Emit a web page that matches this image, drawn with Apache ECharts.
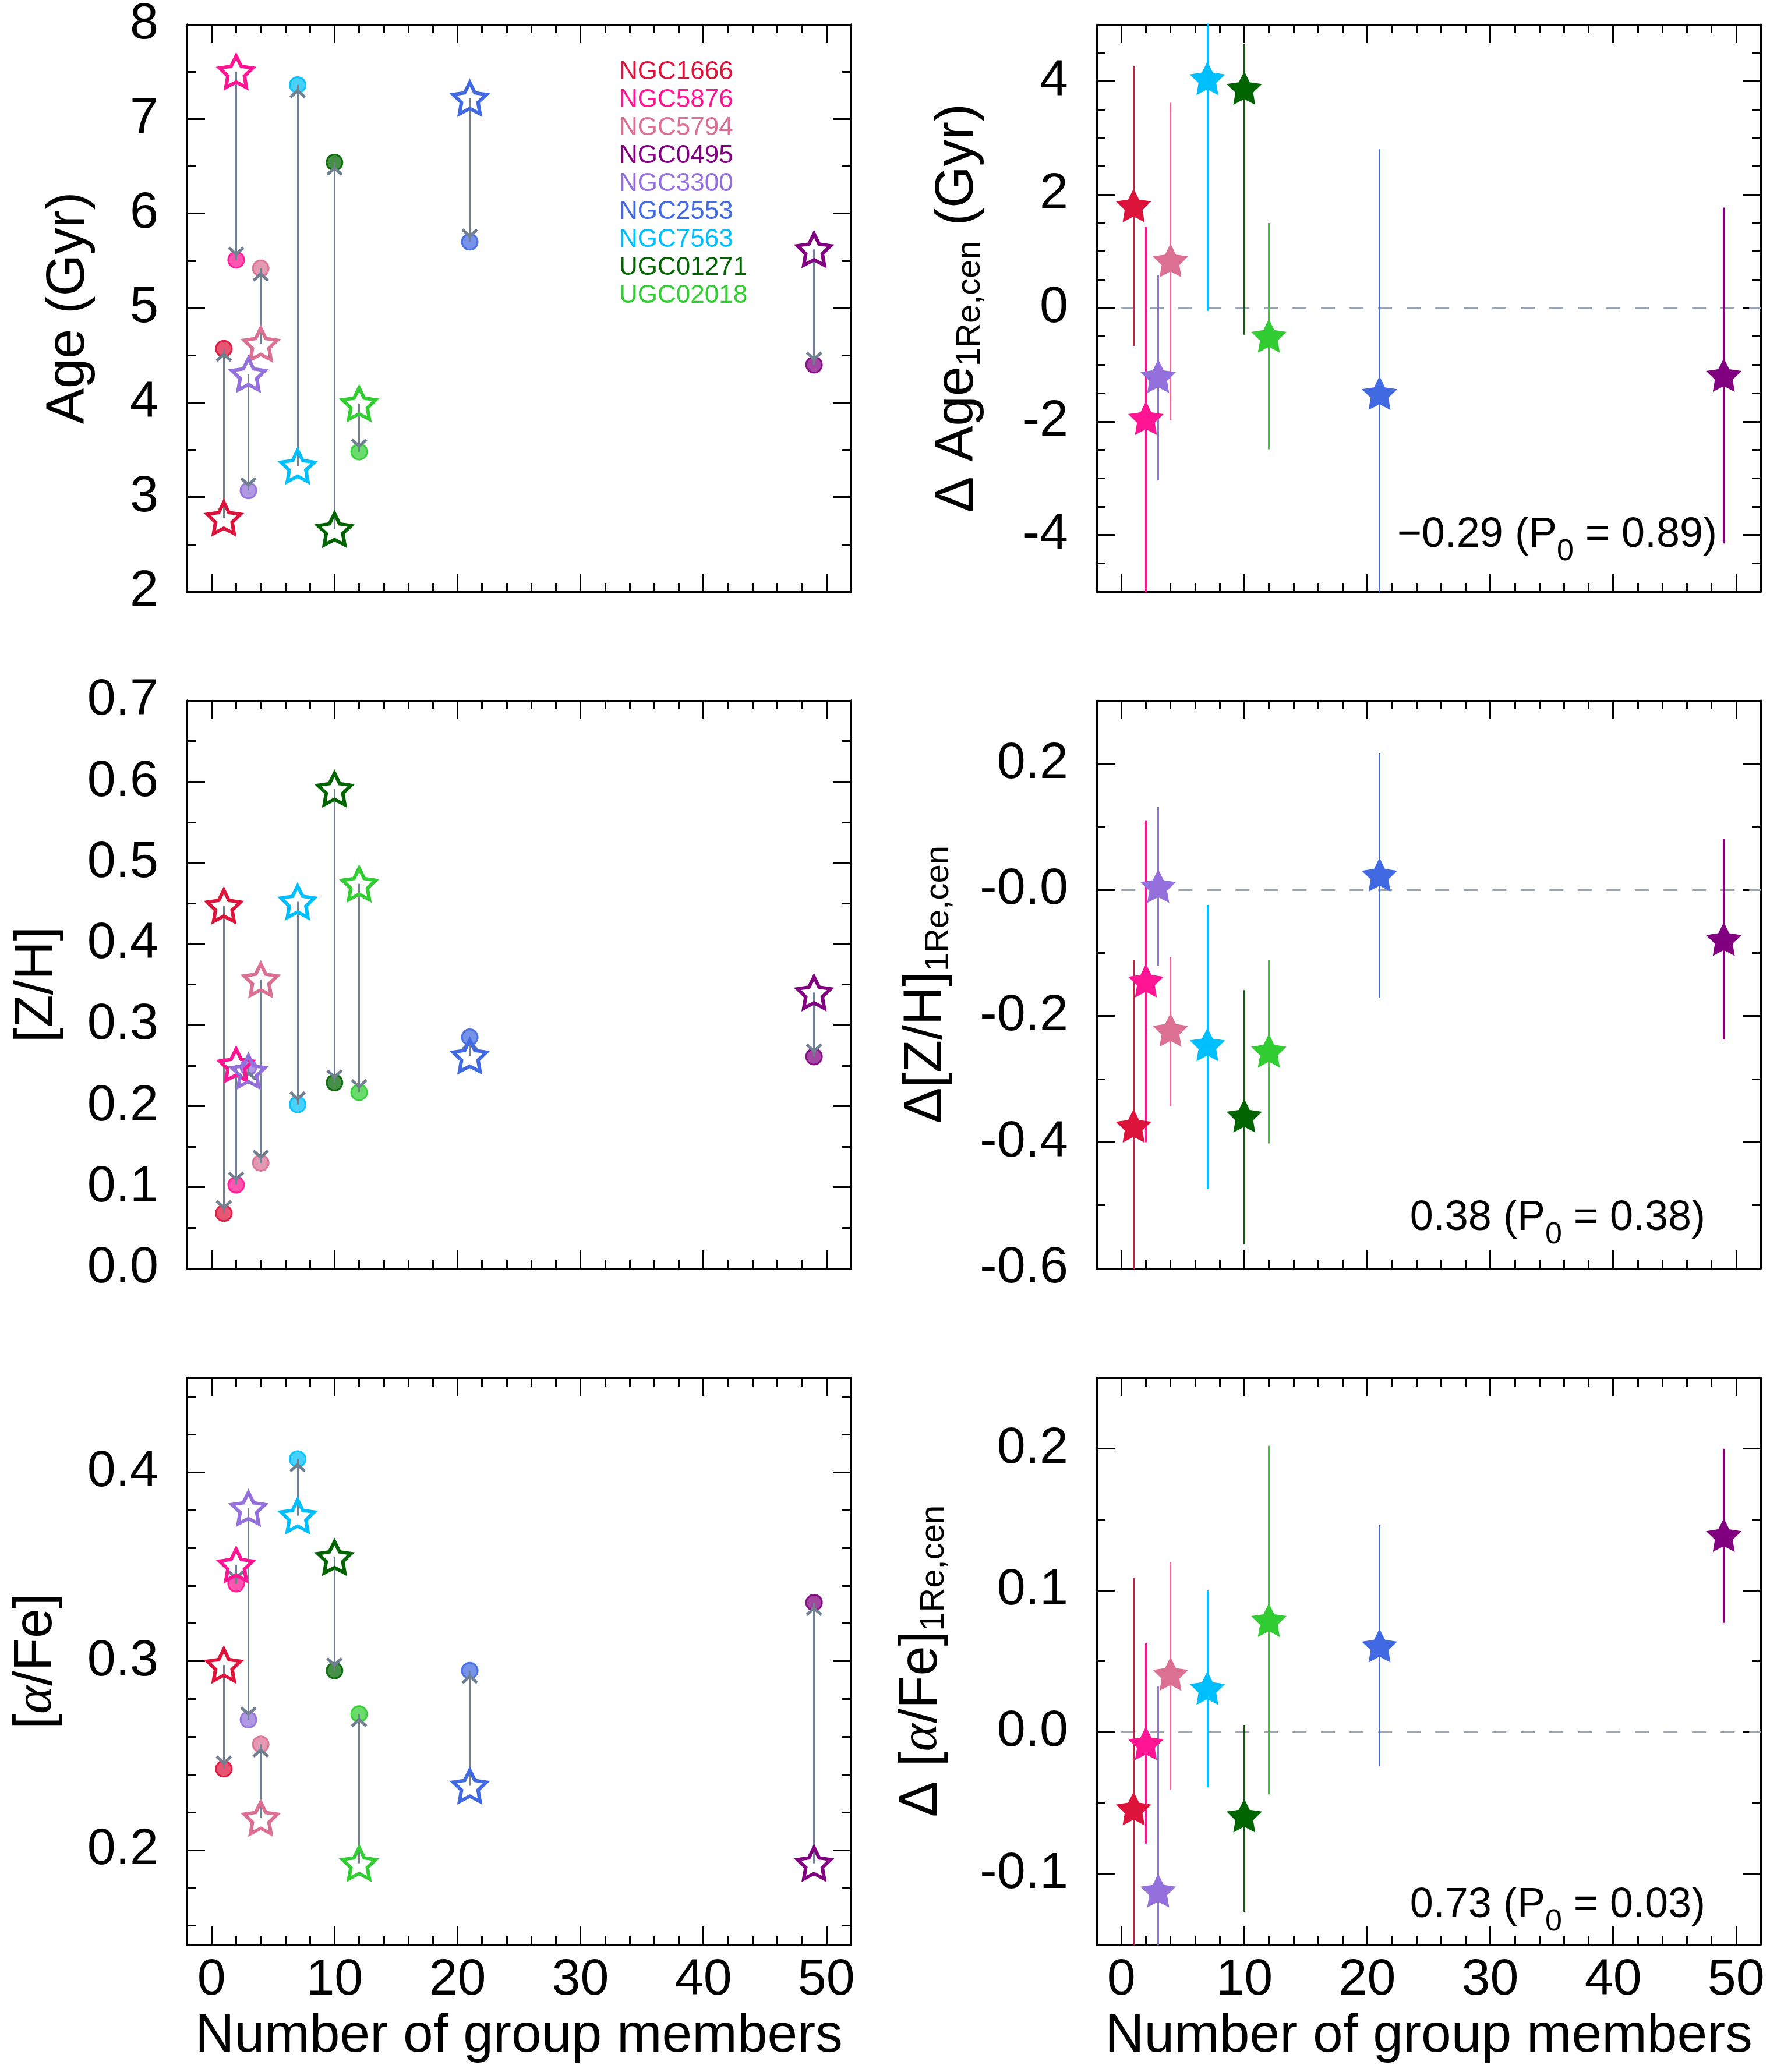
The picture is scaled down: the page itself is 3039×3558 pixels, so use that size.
<!DOCTYPE html>
<html><head><meta charset="utf-8">
<script src="https://cdn.jsdelivr.net/npm/echarts@6/dist/echarts.min.js"></script>
<style>html,body{margin:0;padding:0;background:#fff}#chart{width:3039px;height:3558px}</style>
</head><body><div id="chart"></div>
<script>
// ---------------- DATA ----------------
const galaxies = ['NGC1666','NGC5876','NGC5794','NGC0495','NGC3300','NGC2553','NGC7563','UGC01271','UGC02018'];
const colors   = ['#DC143C','#FF1493','#DB7093','#800080','#9370DB','#4169E1','#00BFFF','#006400','#32CD32'];
const members  = [1, 2, 4, 49, 3, 21, 7, 10, 12];

// Age (Gyr): open star and filled dot
const ageStar = [2.78, 7.50, 4.62, 5.62, 4.30, 7.22, 3.33, 2.66, 3.99];
const ageDot  = [4.57, 5.51, 5.42, 4.40, 3.07, 5.70, 7.36, 6.54, 3.48];
// Delta Age
const dAge    = [1.81, -1.94, 0.84, -1.18, -1.20, -1.50, 4.05, 3.88, -0.49];
const dAgeLo  = [-0.67, -5.31, -1.97, -4.15, -3.04, -5.80, -0.05, -0.47, -2.49];
const dAgeHi  = [4.26, 1.43, 3.62, 1.77, 0.58, 2.80, 8.15, 4.65, 1.50];

// [Z/H]
const zhStar = [0.447, 0.251, 0.356, 0.340, 0.243, 0.262, 0.452, 0.591, 0.474];
const zhDot  = [0.068, 0.103, 0.130, 0.261, 0.248, 0.285, 0.202, 0.229, 0.217];
const dZh    = [-0.374, -0.144, -0.222, -0.078, 0.006, 0.024, -0.245, -0.358, -0.255];
const dZhLo  = [-0.637, -0.400, -0.343, -0.237, -0.121, -0.171, -0.474, -0.562, -0.402];
const dZhHi  = [-0.111, 0.110, -0.107, 0.081, 0.132, 0.217, -0.024, -0.159, -0.111];

// [alpha/Fe]
const afeStar = [0.298, 0.351, 0.217, 0.193, 0.381, 0.234, 0.377, 0.355, 0.193];
const afeDot  = [0.243, 0.341, 0.256, 0.331, 0.269, 0.295, 0.407, 0.295, 0.272];
const dAfe    = [-0.054, -0.008, 0.041, 0.139, -0.112, 0.061, 0.031, -0.059, 0.079];
const dAfeLo  = [-0.217, -0.079, -0.041, 0.077, -0.256, -0.024, -0.039, -0.127, -0.044];
const dAfeHi  = [0.109, 0.063, 0.120, 0.200, 0.032, 0.146, 0.100, 0.005, 0.202];

// correlation annotations
const corrValues = ['\u22120.29', '0.38', '0.73'];
const corrPvals  = ['0.89', '0.38', '0.03'];

// ticks & labels
const xMajorTicks = [0, 10, 20, 30, 40, 50];
const xTickLabels = ['0', '10', '20', '30', '40', '50'];
const ageTicks = [2, 3, 4, 5, 6, 7, 8];
const ageTickLabels = ['2', '3', '4', '5', '6', '7', '8'];
const dAgeTicks = [-4, -2, 0, 2, 4];
const dAgeTickLabels = ['-4', '-2', '0', '2', '4'];
const zhTicks = [0, 0.1, 0.2, 0.3, 0.4, 0.5, 0.6, 0.7];
const zhTickLabels = ['0.0', '0.1', '0.2', '0.3', '0.4', '0.5', '0.6', '0.7'];
const dZhTicks = [-0.6, -0.4, -0.2, 0, 0.2];
const dZhTickLabels = ['-0.6', '-0.4', '-0.2', '-0.0', '0.2'];
const afeTicks = [0.2, 0.3, 0.4];
const afeTickLabels = ['0.2', '0.3', '0.4'];
const dAfeTicks = [-0.1, 0, 0.1, 0.2];
const dAfeTickLabels = ['-0.1', '0.0', '0.1', '0.2'];

const xTitle = 'Number of group members';

// ---------------- HELPERS ----------------
const FONT = '"Liberation Sans", Arial, Helvetica, sans-serif';
function steps(a, b, s) { const o = []; for (let v = a; v <= b + 1e-9; v += s) o.push(+v.toFixed(4)); return o; }
function rgba(hex, a) { const n = parseInt(hex.slice(1), 16); return 'rgba(' + ((n >> 16) & 255) + ',' + ((n >> 8) & 255) + ',' + (n & 255) + ',' + a + ')'; }
function fmt(ticks, labels) { return function (v) { const i = ticks.findIndex(t => Math.abs(t - v) < 1e-6); return i >= 0 ? labels[i] : ''; }; }
function starPath(R, r) {
  let s = '';
  for (let k = 0; k < 10; k++) {
    const ang = -Math.PI / 2 + k * Math.PI / 5, rad = (k % 2 === 0) ? R : r;
    s += (k === 0 ? 'M' : 'L') + (rad * Math.cos(ang)).toFixed(2) + ',' + (rad * Math.sin(ang)).toFixed(2) + ' ';
  }
  return 'path://' + s + 'Z';
}
const STAR = starPath(100, 50);
const CHEVRON = 'path://M-23,-29 M23,17 M0,0 L14,13 L11,17 L0,7 L-11,17 L-14,13 Z';
const xMinorTicks = steps(0, 52, 2);

const rows = [{ top: 42, height: 974 }, { top: 1203, height: 975 }, { top: 2366, height: 973 }];
const cols = [{ left: 321, width: 1140 }, { left: 1883, width: 1140 }];

const richName = {
  m: { fontSize: 92, lineHeight: 100, fontFamily: FONT, color: '#000' },
  s: { fontSize: 58, lineHeight: 56, verticalAlign: 'bottom', fontFamily: FONT, color: '#000' },
  a: { fontSize: 92, lineHeight: 100, fontFamily: '"Liberation Serif", "DejaVu Serif", serif', fontStyle: 'italic', color: '#000' }
};

const panels = [
  { row: 0, col: 0, yMin: 2, yMax: 8, ticks: ageTicks, labels: ageTickLabels, minor: steps(2, 8, 0.5), name: '{m|Age (Gyr)}', nameGap: 152, kind: 'arrow', star: ageStar, dot: ageDot },
  { row: 0, col: 1, yMin: -5, yMax: 5, ticks: dAgeTicks, labels: dAgeTickLabels, minor: steps(-5, 5, 0.5), name: '{m|\u0394 Age}{s|1Re,cen}{m| (Gyr)}', nameGap: 188, kind: 'delta', val: dAge, lo: dAgeLo, hi: dAgeHi },
  { row: 1, col: 0, yMin: 0, yMax: 0.7, ticks: zhTicks, labels: zhTickLabels, minor: steps(0, 0.7, 0.05), name: '{m|[Z/H]}', nameGap: 206, kind: 'arrow', star: zhStar, dot: zhDot },
  { row: 1, col: 1, yMin: -0.6, yMax: 0.3, ticks: dZhTicks, labels: dZhTickLabels, minor: steps(-0.6, 0.3, 0.1), name: '{m|\u0394[Z/H]}{s|1Re,cen}', nameGap: 242, kind: 'delta', val: dZh, lo: dZhLo, hi: dZhHi },
  { row: 2, col: 0, yMin: 0.15, yMax: 0.45, ticks: afeTicks, labels: afeTickLabels, minor: steps(0.16, 0.44, 0.02), name: '{m|[}{a|\u03b1}{m|/Fe]}', nameGap: 208, kind: 'arrow', star: afeStar, dot: afeDot },
  { row: 2, col: 1, yMin: -0.15, yMax: 0.25, ticks: dAfeTicks, labels: dAfeTickLabels, minor: steps(-0.15, 0.25, 0.05), name: '{m|\u0394 [}{a|\u03b1}{m|/Fe]}{s|1Re,cen}', nameGap: 250, kind: 'delta', val: dAfe, lo: dAfeLo, hi: dAfeHi }
];

const grid = [], xAxis = [], yAxis = [], series = [];

function xAx(g, pos, major, showLabel, showName) {
  return {
    gridIndex: g, type: 'value', min: -2, max: 52, position: pos,
    axisLine: { show: true, onZero: false, lineStyle: { color: '#000', width: 3 } },
    axisTick: { show: true, inside: true, length: major ? 31 : 15, customValues: major ? xMajorTicks : xMinorTicks, lineStyle: { color: '#000', width: 3 } },
    axisLabel: { show: showLabel, customValues: xMajorTicks, formatter: fmt(xMajorTicks, xTickLabels), margin: 18, fontSize: 88, color: '#000', fontFamily: FONT },
    splitLine: { show: false },
    name: showName ? xTitle : '', nameLocation: 'middle', nameGap: 112,
    nameTextStyle: { fontSize: 93, color: '#000', fontFamily: FONT }
  };
}
function yAx(g, pos, p, major, showLabel, showName) {
  return {
    gridIndex: g, type: 'value', min: p.yMin, max: p.yMax, position: pos,
    axisLine: { show: true, onZero: false, lineStyle: { color: '#000', width: 3 } },
    axisTick: { show: true, inside: true, length: major ? 31 : 15, customValues: major ? p.ticks : p.minor, lineStyle: { color: '#000', width: 3 } },
    axisLabel: { show: showLabel, customValues: p.ticks, formatter: fmt(p.ticks, p.labels), margin: 49, fontSize: 88, color: '#000', fontFamily: FONT },
    splitLine: { show: false },
    name: showName ? p.name : '', nameLocation: 'middle', nameGap: p.nameGap, nameRotate: 90,
    nameTextStyle: { fontSize: 92, color: '#000', fontFamily: FONT, rich: richName }
  };
}

panels.forEach((p, pi) => {
  const rect = { left: cols[p.col].left, top: rows[p.row].top, width: cols[p.col].width, height: rows[p.row].height, containLabel: false, outerBoundsMode: 'none' };
  const bottomRow = p.row === 2;
  grid.push(Object.assign({}, rect));
  grid.push(Object.assign({}, rect));
  const gMaj = 2 * pi, gMin = 2 * pi + 1;
  xAxis.push(xAx(gMaj, 'bottom', true, bottomRow, bottomRow));
  xAxis.push(xAx(gMaj, 'top', true, false, false));
  xAxis.push(xAx(gMin, 'bottom', false, false, false));
  xAxis.push(xAx(gMin, 'top', false, false, false));
  yAxis.push(yAx(gMaj, 'left', p, true, true, true));
  yAxis.push(yAx(gMaj, 'right', p, true, false, false));
  yAxis.push(yAx(gMin, 'left', p, false, false, false));
  yAxis.push(yAx(gMin, 'right', p, false, false, false));
  const xi = 4 * pi, yi = 4 * pi;

  if (p.kind === 'arrow') {
    series.push({
      type: 'scatter', xAxisIndex: xi, yAxisIndex: yi, z: 3, silent: true, symbol: 'circle', symbolSize: 27,
      data: members.map((m, i) => ({ value: [m, p.dot[i]], itemStyle: { color: rgba(colors[i], 0.72), borderColor: rgba(colors[i], 0.92), borderWidth: 3, opacity: 1 } }))
    });
    series.push({
      type: 'lines', coordinateSystem: 'cartesian2d', xAxisIndex: xi, yAxisIndex: yi, z: 4, silent: true, clip: true,
      symbol: ['none', CHEVRON], symbolSize: 46,
      lineStyle: { color: '#708090', width: 3, opacity: 1 },
      data: members.map((m, i) => ({ coords: [[m, p.star[i]], [m, p.dot[i]]] }))
    });
    series.push({
      type: 'scatter', xAxisIndex: xi, yAxisIndex: yi, z: 5, silent: true, symbol: STAR, symbolSize: [57, 54],
      data: members.map((m, i) => ({ value: [m, p.star[i]], itemStyle: { color: 'rgba(255,255,255,0)', borderColor: colors[i], borderWidth: 6, opacity: 1 } }))
    });
  } else {
    series.push({
      type: 'lines', coordinateSystem: 'cartesian2d', xAxisIndex: xi, yAxisIndex: yi, z: 2, silent: true, clip: true,
      lineStyle: { color: '#9AA5B1', width: 3, type: [24, 25], opacity: 1 },
      data: [{ coords: [[0, 0], [52, 0]] }]
    });
    series.push({
      type: 'lines', coordinateSystem: 'cartesian2d', xAxisIndex: xi, yAxisIndex: yi, z: 3, silent: true, clip: true,
      lineStyle: { width: 3, opacity: 1 },
      data: members.map((m, i) => ({ coords: [[m, p.lo[i]], [m, p.hi[i]]], lineStyle: { color: colors[i], width: 3, opacity: 1 } }))
    });
    series.push({
      type: 'scatter', xAxisIndex: xi, yAxisIndex: yi, z: 5, silent: true, symbol: STAR, symbolSize: [61, 58],
      data: members.map((m, i) => ({ value: [m, p.val[i]], itemStyle: { color: colors[i], opacity: 1 } }))
    });
  }
});

// legend-like coloured names and correlation annotations
const graphics = galaxies.map((g, i) => ({
  type: 'text', x: 1063, y: 124 + 48 * i, silent: true,
  style: { text: g, fill: colors[i], fontSize: 44, fontFamily: FONT, align: 'left', textAlign: 'left', verticalAlign: 'middle', textVerticalAlign: 'middle' }
}));
const annPos = [{ x: 2948, y: 864 }, { x: 2928, y: 2037 }, { x: 2928, y: 3217 }];
corrValues.forEach((c, k) => {
  graphics.push({
    type: 'text', x: annPos[k].x, y: annPos[k].y, silent: true,
    style: {
      text: '{m|' + c + ' (P}{s|0}{m| = ' + corrPvals[k] + ')}',
      align: 'right', textAlign: 'right', verticalAlign: 'top', textVerticalAlign: 'top', fill: '#000',
      rich: {
        m: { fontSize: 72, lineHeight: 110, fontFamily: FONT, fill: '#000', color: '#000' },
        s: { fontSize: 52, lineHeight: 60, verticalAlign: 'bottom', fontFamily: FONT, fill: '#000', color: '#000' }
      }
    }
  });
});

const chart = echarts.init(document.getElementById('chart'), null, { renderer: 'canvas', width: 3039, height: 3558 });
chart.setOption({
  animation: false,
  backgroundColor: '#fff',
  grid: grid, xAxis: xAxis, yAxis: yAxis, series: series,
  graphic: { elements: graphics }
});
</script>
</body></html>
